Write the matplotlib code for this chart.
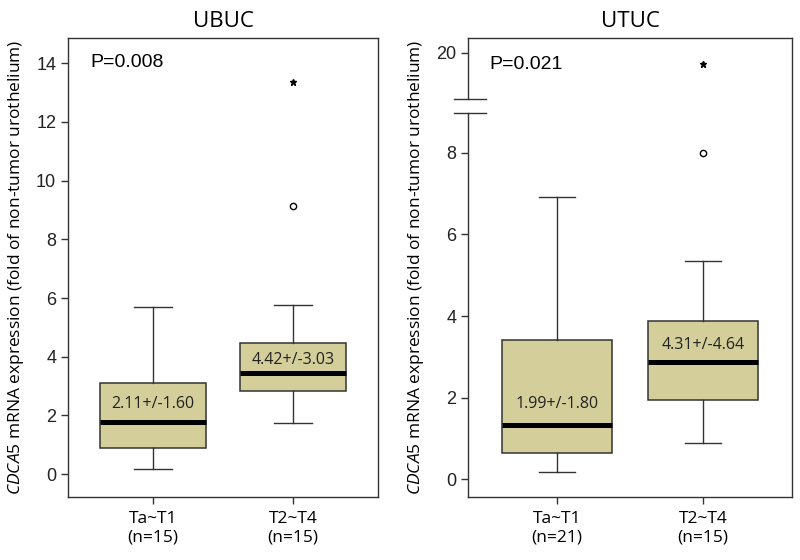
import numpy as np
import matplotlib
matplotlib.use('Agg')
import matplotlib.pyplot as plt

plt.rcParams['font.family'] = ['Open Sans', 'DejaVu Sans']
plt.rcParams['mathtext.fontset'] = 'custom'
plt.rcParams['mathtext.it'] = 'Open Sans:italic'
plt.rcParams['mathtext.rm'] = 'Open Sans'

groups = ['Ta~T1\n(n=15)', 'T2~T4\n(n=15)']
groups_ut = ['Ta~T1\n(n=21)', 'T2~T4\n(n=15)']

# UBUC box stats
ub_q1 = [0.875, 2.83]
ub_med = [1.76, 3.45]
ub_q3 = [3.11, 4.47]
ub_lo = [0.19, 1.75]
ub_hi = [5.69, 5.75]
ub_out_circle = [9.14]
ub_out_star = [13.35]
ub_text = ['2.11+/-1.60', '4.42+/-3.03']
ub_text_y = [2.38, 3.88]

# UTUC box stats
ut_q1 = [0.645, 1.94]
ut_med = [1.33, 2.86]
ut_q3 = [3.41, 3.88]
ut_lo = [0.18, 0.89]
ut_hi = [6.93, 5.36]
ut_out_circle = [8.01]
ut_out_star = [19.72]
ut_text = ['1.99+/-1.80', '4.31+/-4.64']
ut_text_y = [1.83, 3.29]

box_col = '#d4cf9a'
edge = '#333333'


# broken axis scale for UTUC (gap between ~9 and ~18.9)
def fwd(y):
    y = np.asarray(y, dtype=float)
    return np.where(y <= 9, y,
                    np.where(y <= 18.87, 9 + (y - 9) * (0.33 / 9.87), 9.33 + (y - 18.87)))


def inv(x):
    x = np.asarray(x, dtype=float)
    return np.where(x <= 9, x,
                    np.where(x <= 9.33, 9 + (x - 9) * (9.87 / 0.33), 18.87 + (x - 9.33)))


fig = plt.figure(figsize=(8, 5.6), dpi=100)
ax1 = fig.add_axes([0.085, 0.1125, 0.3875, 0.8196])
ax2 = fig.add_axes([0.585, 0.1125, 0.405, 0.8196])

ylab = r'$\it{CDCA5}$ mRNA expression (fold of non-tumor urothelium)'


def draw(ax, q1, med, q3, lo, hi, labels, capw):
    stats = []
    for i in range(2):
        stats.append(dict(med=med[i], q1=q1[i], q3=q3[i], whislo=lo[i], whishi=hi[i], fliers=[]))
    ax.bxp(stats, positions=[1, 2], widths=0.76, patch_artist=True, showfliers=False,
           capwidths=capw,
           boxprops=dict(facecolor=box_col, edgecolor=edge, linewidth=1.1),
           medianprops=dict(color='black', linewidth=3.6, solid_capstyle='butt'),
           whiskerprops=dict(color=edge, linewidth=1.0),
           capprops=dict(color=edge, linewidth=1.0))
    ax.set_xlim(0.39, 2.61)
    ax.set_xticks([1, 2])
    ax.set_xticklabels(labels, fontsize=12.5, linespacing=1.2)
    for sp in ax.spines.values():
        sp.set_color(edge)
        sp.set_linewidth(1.0)
    ax.tick_params(axis='both', direction='out', length=5, width=1, color=edge)
    ax.tick_params(axis='x', pad=5)
    ax.set_ylabel(ylab, fontsize=12.5)


def fix_yfont(ax):
    for lab in ax.get_yticklabels():
        lab.set_fontfamily('Liberation Sans')
        lab.set_fontsize(13)
        lab.set_color('#222222')


# UBUC
draw(ax1, ub_q1, ub_med, ub_q3, ub_lo, ub_hi, groups, 0.27)
ax1.set_ylim(-0.78, 14.86)
ax1.set_yticks([0, 2, 4, 6, 8, 10, 12, 14])
fix_yfont(ax1)
ax1.plot([2] * len(ub_out_circle), ub_out_circle, 'o', ms=4.5, mfc='white', mec='black', mew=1.0)
ax1.plot([2] * len(ub_out_star), ub_out_star, '*', ms=5, color='black')
for i in range(2):
    ax1.text(i + 1, ub_text_y[i], ub_text[i], ha='center', va='center', fontsize=11.5, color='#222222')
ax1.text(0.073, 0.947, 'P=0.008', transform=ax1.transAxes, fontsize=14,
         family='Liberation Sans', va='center', ha='left')
ax1.set_title('UBUC', fontsize=16, pad=8)
ax1.yaxis.set_label_coords(-0.135, 0.5)

# UTUC
ax2.set_yscale('function', functions=(fwd, inv))
draw(ax2, ut_q1, ut_med, ut_q3, ut_lo, ut_hi, groups_ut, 0.25)
ax2.set_ylim(-0.44, 20.36)
ax2.set_yticks([0, 2, 4, 6, 8, 20])
ax2.set_yticklabels(['0', '2', '4', '6', '8', '20'])
ax2.yaxis.set_minor_locator(matplotlib.ticker.NullLocator())
fix_yfont(ax2)
ax2.plot([2] * len(ut_out_circle), ut_out_circle, 'o', ms=4.5, mfc='white', mec='black', mew=1.0)
ax2.plot([2] * len(ut_out_star), ut_out_star, '*', ms=5, color='black')
for i in range(2):
    ax2.text(i + 1, ut_text_y[i], ut_text[i], ha='center', va='center', fontsize=11.5, color='#222222')
ax2.text(0.066, 0.943, 'P=0.021', transform=ax2.transAxes, fontsize=14,
         family='Liberation Sans', va='center', ha='left')
ax2.set_title('UTUC', fontsize=16, pad=8)
ax2.yaxis.set_label_coords(-0.13, 0.5)

# axis break on the left spine
brk_lo, brk_hi = 8.97, 18.87
ax2.spines['left'].set_visible(False)
tr = ax2.get_yaxis_transform()
ax2.plot([0, 0], [-0.44, brk_lo], color=edge, lw=1.0, transform=tr, clip_on=False)
ax2.plot([0, 0], [brk_hi, 20.36], color=edge, lw=1.0, transform=tr, clip_on=False)
for yb in [brk_lo, brk_hi]:
    ax2.plot([-0.043, 0.056], [yb, yb], color=edge, lw=1.0, transform=tr, clip_on=False)

fig.savefig('out.png', dpi=100)
